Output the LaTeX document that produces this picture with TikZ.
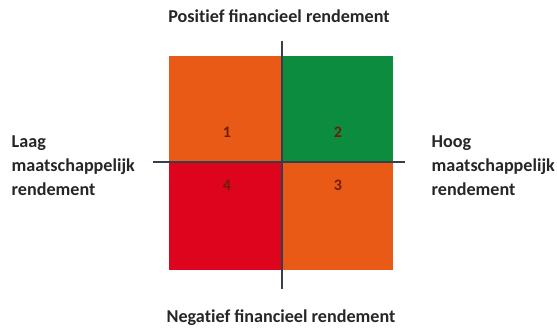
\documentclass[tikz,border=0pt]{standalone}
\usepackage{fontspec}
\setmainfont{Carlito}
\usetikzlibrary{positioning}

\definecolor{quadorange}{RGB}{232,90,22}
\definecolor{quadgreen}{RGB}{12,140,62}
\definecolor{quadred}{RGB}{222,4,30}
\definecolor{axisgray}{RGB}{52,62,76}
\definecolor{numdark}{RGB}{110,30,10}

\newcommand\noti{t\kern0pt i}

\begin{document}
\begin{tikzpicture}[
    x=0.75pt, y=-0.75pt,
    every node/.style={font=\bfseries},
    label/.style={font=\bfseries\fontsize{13.6}{18}\selectfont, text=black!85},
    number/.style={font=\bfseries\fontsize{12}{14}\selectfont, text=numdark},
    axis/.style={draw=axisgray, line width=1.4pt},
  ]
  \useasboundingbox (0,0) rectangle (557,330);

  % ------------------------------------------------------------------
  % quadrants, centre of the cross at (282,162)
  % ------------------------------------------------------------------
  \def\xl{169}  \def\xm{282}  \def\xr{393}
  \def\yt{56}   \def\ym{162}  \def\yb{270}

  \fill[quadorange] (\xl,\yt) rectangle (\xm,\ym);
  \fill[quadgreen]  (\xm,\yt) rectangle (\xr,\ym);
  \fill[quadred]    (\xl,\ym) rectangle (\xm,\yb);
  \fill[quadorange] (\xm,\ym) rectangle (\xr,\yb);

  \node[number] (n1) at (227,132) {1};
  \node[number] (n2) at (338,132) {2};
  \node[number] (n4) at (227,185) {4};
  \node[number] (n3) at (338,185) {3};

  % ------------------------------------------------------------------
  % axes
  % ------------------------------------------------------------------
  \coordinate (top)    at (\xm,41);
  \coordinate (bottom) at (\xm,289);
  \coordinate (left)   at (153,\ym);
  \coordinate (right)  at (405,\ym);
  \draw[axis] (top) -- (bottom);
  \draw[axis] (left) -- (right);

  % ------------------------------------------------------------------
  % axis labels
  % ------------------------------------------------------------------
  \node[label] (pos) at (279,16) {Posi\noti ef financieel rendement};
  \node[label] (neg) at (281,318) {Nega\noti ef financieel rendement};
  \node[label, anchor=west, align=left] (laag) at (7,166)
       {Laag\\maatschappelijk\\rendement};
  \node[label, anchor=west, align=left] (hoog) at (427,166)
       {Hoog\\maatschappelijk\\rendement};

\end{tikzpicture}
\end{document}
